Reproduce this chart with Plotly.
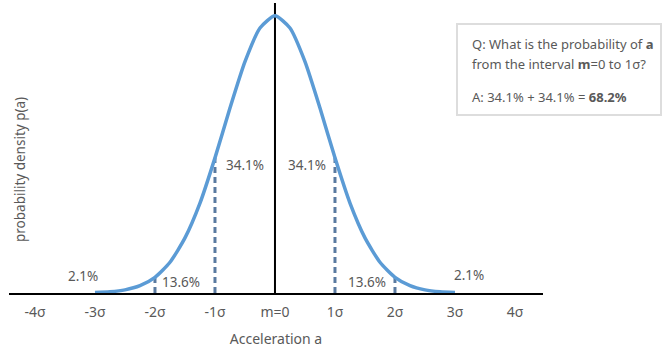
import plotly.graph_objects as go

# Curve samples (x in units of sigma, relative density)
curve_x = [-3.0, -2.75, -2.5, -2.25, -2.0, -1.75, -1.5, -1.25, -1.0, -0.75, -0.5, -0.25,
           0.0, 0.25, 0.5, 0.75, 1.0, 1.25, 1.5, 1.75, 2.0, 2.25, 2.5, 2.75, 3.0]
curve_y = [0.0007, 0.0021, 0.0054, 0.0126, 0.027, 0.053, 0.095, 0.155, 0.233, 0.319, 0.399, 0.457,
           0.478, 0.457, 0.399, 0.319, 0.233, 0.155, 0.095, 0.053, 0.027, 0.0126, 0.0054, 0.0021, 0.0007]

tick_vals = [-4, -3, -2, -1, 0, 1, 2, 3, 4]
tick_text = ["-4σ", "-3σ", "-2σ", "-1σ", "m=0", "1σ", "2σ", "3σ", "4σ"]

dash_x = [-2.0, -1.0, 1.0, 2.0]

pct_labels = ["34.1%", "34.1%", "13.6%", "13.6%", "2.1%", "2.1%"]
pct_x = [-0.5, 0.53, -1.567, 1.533, -3.2, 3.233]
pct_y = [0.221, 0.221, 0.019, 0.019, 0.029, 0.031]

box_lines = ["Q: What is the probability of <b>a</b>",
             "from the interval <b>m</b>=0 to 1σ?",
             "A: 34.1% + 34.1% = <b>68.2%</b>"]

FONT = "Noto Sans"
TXT = "#595959"

# plot-area pixel geometry helpers for paper placement
L, R, T, B = 9, 543, 3, 293
def px(xp): return (xp - L) / (R - L)
def py(yp): return (B - yp) / (B - T)

fig = go.Figure()

for dx in dash_x:
    dy = curve_y[curve_x.index(dx)]
    fig.add_trace(go.Scatter(x=[dx, dx], y=[0, dy], mode="lines",
                             line=dict(color="#5a7aa0", width=3, dash="6px,4px"),
                             showlegend=False, hoverinfo="skip"))

fig.add_trace(go.Scatter(x=[0, 0], y=[0, 0.5], mode="lines",
                         line=dict(color="black", width=2),
                         showlegend=False, hoverinfo="skip"))

fig.add_trace(go.Scatter(x=curve_x, y=curve_y, mode="lines",
                         line=dict(color="#5b9bd5", width=3.5, shape="spline", smoothing=0.6),
                         showlegend=False, hoverinfo="skip"))

for t, x, y in zip(pct_labels, pct_x, pct_y):
    fig.add_annotation(x=x, y=y, xref="x", yref="y", text=t, showarrow=False,
                       font=dict(family=FONT, size=13.5, color=TXT))

fig.add_annotation(x=px(20), y=py(170), xref="paper", yref="paper", text="probability density p(a)",
                   textangle=-90, showarrow=False, xanchor="center", yanchor="middle",
                   font=dict(family=FONT, size=13.5, color=TXT))

fig.add_shape(type="rect", xref="paper", yref="paper",
              x0=px(457), x1=px(661), y0=py(115), y1=py(24),
              line=dict(color="#dddddd", width=2), fillcolor="white")
for t, yp in zip(box_lines, [44, 63.5, 97]):
    fig.add_annotation(x=px(470), y=py(yp), xref="paper", yref="paper",
                       xanchor="left", yanchor="middle", align="left", showarrow=False,
                       text=t, font=dict(family=FONT, size=13, color=TXT))

fig.update_layout(
    width=664, height=352,
    margin=dict(l=L, r=664 - R, t=T, b=352 - B),
    paper_bgcolor="white", plot_bgcolor="white",
    xaxis=dict(range=[-4.433, 4.467], tickvals=tick_vals, ticktext=tick_text,
               showgrid=False, zeroline=False, showline=True, linecolor="black", linewidth=2,
               ticks="outside", ticklen=5, tickcolor="rgba(0,0,0,0)",
               tickfont=dict(family=FONT, size=14, color=TXT),
               title=dict(text="Acceleration a", standoff=14,
                          font=dict(family=FONT, size=14, color=TXT))),
    yaxis=dict(range=[0, 0.5], showgrid=False, zeroline=False, showline=False,
               showticklabels=False, ticks=""),
)

fig.write_html("out.html", config={"displayModeBar": False})
